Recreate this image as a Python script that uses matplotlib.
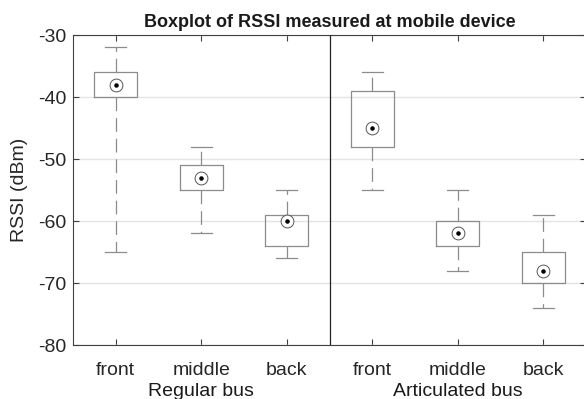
import numpy as np
import matplotlib.pyplot as plt

plt.rcParams['font.family'] = ['Liberation Sans', 'DejaVu Sans']
plt.rcParams['axes.unicode_minus'] = False

groups = ['Regular bus', 'Articulated bus']
positions_lbl = ['front', 'middle', 'back', 'front', 'middle', 'back']

# per-box stats in dBm (regular front/middle/back, articulated front/middle/back)
whisker_hi = [-32, -48, -55, -36, -55, -59]
q3 = [-36, -51, -59, -39, -60, -65]
medians = [-38, -53, -60, -45, -62, -68]
q1 = [-40, -55, -64, -48, -64, -70]
whisker_lo = [-65, -62, -66, -55, -68, -74]

pos = np.arange(1, 7)
stats = []
for i in range(6):
    stats.append({'whishi': whisker_hi[i], 'q3': q3[i], 'med': medians[i],
                  'q1': q1[i], 'whislo': whisker_lo[i], 'fliers': []})

fig = plt.figure(figsize=(5.84, 3.99), dpi=100)
ax = fig.add_axes([73/584, 54/399, 513/584, 310/399])

box_col = '#8c8c8c'
ax.bxp(stats, positions=pos, widths=0.5, showfliers=False,
       boxprops=dict(color=box_col, lw=0.9),
       whiskerprops=dict(color=box_col, lw=0.9, linestyle=(0, (11, 5.5))),
       capprops=dict(color=box_col, lw=0.9),
       medianprops=dict(visible=False), capwidths=0.25)

ax.scatter(pos, medians, s=85, facecolors='white', edgecolors='#555555',
           linewidths=0.7, zorder=4)
ax.scatter(pos, medians, s=5, color='black', zorder=5)

ax.axvline(3.5, color='#222222', lw=0.9, zorder=3)

ax.set_xlim(0.5, 6.5)
ax.set_ylim(-80, -30)
ax.set_yticks(np.arange(-80, -29, 10))
ax.set_xticks(pos)
ax.set_xticklabels(positions_lbl)
ax.yaxis.grid(True, color='#e4e4e4', lw=1.0)
ax.set_axisbelow(True)
ax.tick_params(direction='in', top=True, right=True, length=4, width=0.8,
               color='#404040', labelsize=14, labelcolor='#262626', pad=5)
ax.tick_params(axis='x', pad=12)
for sp in ax.spines.values():
    sp.set_color('#404040')
    sp.set_linewidth(0.8)

ax.set_ylabel('RSSI (dBm)', fontsize=14, color='#262626', labelpad=7)
ax.set_title('Boxplot of RSSI measured at mobile device', fontsize=13,
             fontweight='bold', color='#1a1a1a', pad=6)

for k, g in enumerate(groups):
    ax.text(2 + 3*k, -0.123, g, transform=ax.get_xaxis_transform(),
            ha='center', va='top', fontsize=14, color='#1a1a1a')

fig.savefig('out.png', dpi=100)
